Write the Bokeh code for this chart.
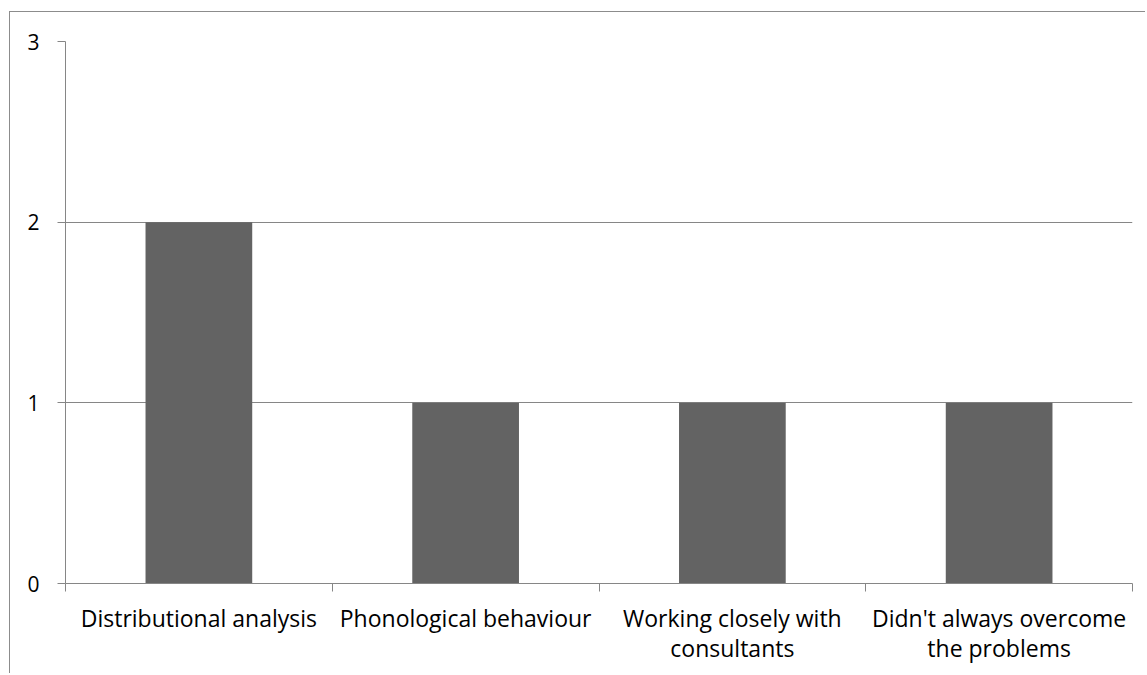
import numpy as np
from bokeh.plotting import figure
from bokeh.models import FixedTicker, Range1d
from bokeh.embed import file_html
from bokeh.resources import INLINE

categories = ["Distributional analysis", "Phonological behaviour",
              "Working closely with\nconsultants", "Didn't always overcome\nthe problems"]
values = [2, 1, 1, 1]
y_ticks = [0, 1, 2, 3]

n = len(categories)
centers = [i + 0.5 for i in range(n)]
bounds = list(range(n + 1))

FONT = "Open Sans"
GRAY = "#868686"

p = figure(width=1136, height=662, output_backend="svg", toolbar_location=None,
           x_range=Range1d(0, n), y_range=Range1d(0, 3),
           min_border_left=55, min_border_right=14, min_border_top=29, min_border_bottom=91)
p.margin = (11, 0, 0, 9)
p.styles = {"border-left": "1px solid #8c8c8c", "border-top": "1px solid #8c8c8c"}
p.outline_line_color = None

p.vbar(x=centers, top=values, width=0.4, bottom=0, fill_color="#636363", line_color=None)

xa = p.xaxis[0]
xa.ticker = FixedTicker(ticks=centers, minor_ticks=bounds)
xa.major_label_overrides = {c: lab for c, lab in zip(centers, categories)}
xa.major_tick_line_color = None
xa.minor_tick_line_color = GRAY
xa.minor_tick_in = 0
xa.minor_tick_out = 8
xa.axis_line_color = GRAY
xa.major_label_text_font = FONT
xa.major_label_text_font_size = "23px"
xa.major_label_text_color = "black"
xa.major_label_standoff = 10
xa.major_label_text_line_height = 0.95

ya = p.yaxis[0]
ya.ticker = FixedTicker(ticks=y_ticks, minor_ticks=[])
ya.major_tick_line_color = GRAY
ya.major_tick_in = 0
ya.major_tick_out = 8
ya.minor_tick_line_color = None
ya.axis_line_color = GRAY
ya.major_label_text_font = FONT
ya.major_label_text_font_size = "21px"
ya.major_label_text_color = "black"
ya.major_label_standoff = 18

p.xgrid.grid_line_color = None
p.ygrid.grid_line_color = GRAY
p.ygrid.ticker = FixedTicker(ticks=y_ticks)

open("out.html", "w").write(file_html(p, INLINE))
